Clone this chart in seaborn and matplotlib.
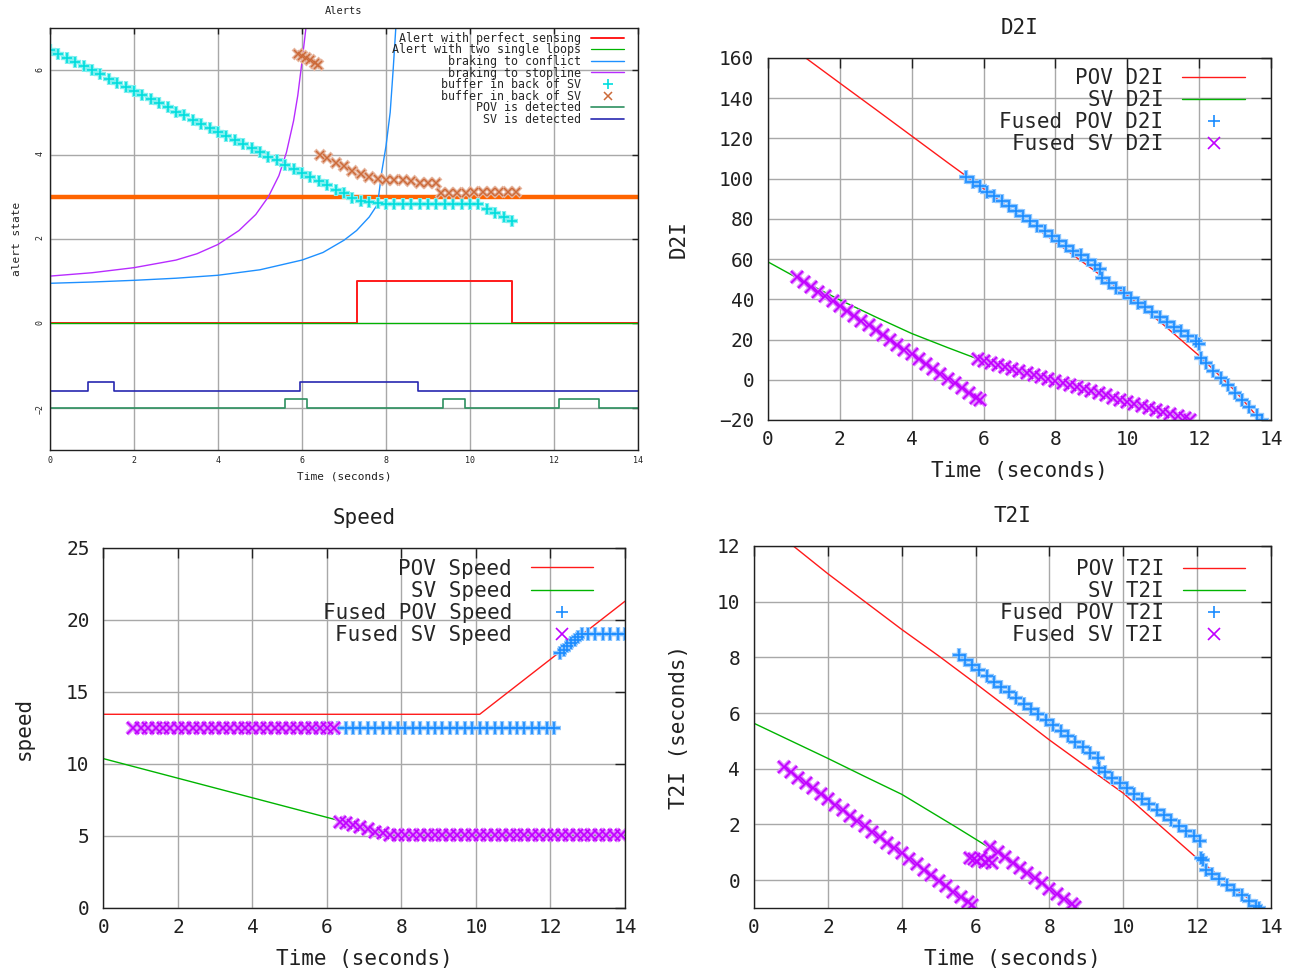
import matplotlib
matplotlib.use("Agg")
import matplotlib.pyplot as plt
import matplotlib.colors as mcolors
import seaborn as sns

RED = "#ff1a1a"
GREEN = "#00b400"
BLUE = "#1a8cff"
PURPLE = "#c000ff"

# ---------------- Alerts (top left) ----------------
perfect_t = [0, 7.30, 11.01, 14]
perfect_v = [0, 1, 0, 0]
loops_t = [0, 14]
loops_v = [0, 0]
conflict_t = [0, 1, 2, 3, 4, 5, 6, 6.5, 7, 7.3, 7.6, 7.8, 7.9, 8.0, 8.1, 8.17, 8.24]
conflict_v = [0.95, 0.98, 1.02, 1.07, 1.14, 1.27, 1.5, 1.68, 1.97, 2.2, 2.52, 2.82, 3.6, 4.2,
              5.0, 6.0, 7.1]
stopline_t = [0, 1, 2, 3, 3.5, 4, 4.5, 4.9, 5.2, 5.45, 5.63, 5.8, 5.9, 6.0, 6.1]
stopline_v = [1.12, 1.2, 1.32, 1.5, 1.65, 1.87, 2.2, 2.58, 3.0, 3.5, 4.05, 4.8, 5.4, 6.2, 7.05]
buf_plus_t = [0.0, 0.2, 0.4, 0.6, 0.8, 1.0, 1.2, 1.4, 1.6, 1.8, 2.0, 2.2, 2.4, 2.6, 2.8, 3.0,
              3.2, 3.4, 3.6, 3.8, 4.0, 4.2, 4.4, 4.6, 4.8, 5.0, 5.2, 5.4, 5.6, 5.8, 6.0, 6.2,
              6.4, 6.6, 6.8, 7.0, 7.2, 7.4, 7.6, 7.8, 8.0, 8.2, 8.4, 8.6, 8.8, 9.0, 9.2, 9.4,
              9.6, 9.8, 10.0, 10.2, 10.4, 10.6, 10.8, 11.0]
buf_plus_v = [6.48, 6.38, 6.29, 6.19, 6.09, 6.00, 5.90, 5.80, 5.70, 5.61, 5.51, 5.41, 5.31,
              5.22, 5.12, 5.02, 4.93, 4.83, 4.73, 4.63, 4.54, 4.44, 4.34, 4.24, 4.15, 4.05,
              3.95, 3.86, 3.76, 3.66, 3.56, 3.47, 3.37, 3.27, 3.17, 3.08, 2.98, 2.91, 2.87,
              2.85, 2.84, 2.84, 2.84, 2.84, 2.84, 2.84, 2.84, 2.84, 2.84, 2.84, 2.84, 2.82,
              2.72, 2.62, 2.53, 2.43]
buf_x_t = [5.9, 6.0, 6.1, 6.2, 6.3, 6.38,
           6.42, 6.6, 6.8, 7.0, 7.2, 7.4, 7.6, 7.8, 8.0, 8.2, 8.4, 8.6, 8.8, 9.0, 9.2,
           9.3, 9.5, 9.7, 9.9, 10.1, 10.3, 10.5, 10.7, 10.9, 11.1]
buf_x_v = [6.38, 6.33, 6.28, 6.23, 6.18, 6.13,
           4.0, 3.91, 3.81, 3.72, 3.62, 3.53, 3.46, 3.42, 3.40, 3.39, 3.39, 3.38, 3.33, 3.33, 3.33,
           3.08, 3.08, 3.09, 3.10, 3.12, 3.12, 3.12, 3.12, 3.12, 3.12]
pov_detect_t = [0, 5.60, 6.12, 9.36, 9.89, 12.13, 13.07, 14]
pov_detect_v = [-2, -1.8, -2, -1.8, -2, -1.8, -2, -2]
sv_detect_t = [0, 0.90, 1.52, 5.96, 8.77, 14]
sv_detect_v = [-1.6, -1.4, -1.6, -1.4, -1.6, -1.6]
alert_threshold = 3.0

# ---------------- D2I (top right) ----------------
pov_d2i_t = [1.05, 2, 3, 4, 5, 6, 7, 8, 9, 10, 11, 12, 13, 13.7]
pov_d2i_v = [160, 147.5, 134.4, 121.2, 108, 95, 81.5, 68.5, 55.4, 42, 27.5, 12, -5.5, -20]
sv_d2i_t = [0, 1, 2, 3, 4, 5, 5.8, 7, 8, 9, 10, 11, 11.7]
sv_d2i_v = [58.6, 48.8, 39.7, 31.2, 23, 16, 10.6, 4.2, -0.6, -5.8, -10.9, -16.1, -19.7]
fpov_d2i_t = [5.5, 5.7, 5.9, 6.1, 6.3, 6.5, 6.7, 6.9, 7.1, 7.3, 7.5, 7.7, 7.9, 8.1, 8.3, 8.5,
              8.7, 8.9, 9.1, 9.25,
              9.3, 9.5, 9.7, 9.9, 10.1, 10.3, 10.5, 10.7, 10.9, 11.1, 11.3, 11.5, 11.7, 11.9, 12.0,
              12.05, 12.2, 12.4, 12.6, 12.8, 13.0, 13.2, 13.4, 13.6, 13.75]
fpov_d2i_v = [101.0, 98.5, 96.1, 93.6, 91.2, 88.7, 86.3, 83.8, 81.4, 78.9, 76.5, 74.0, 71.6,
              69.1, 66.7, 64.2, 61.8, 59.3, 56.9, 55.0,
              50.4, 48.0, 45.6, 43.2, 40.8, 38.4, 36.0, 33.6, 31.2, 28.8, 26.4, 24.0, 21.6, 19.2, 18.0,
              10.8, 8.1, 4.5, 0.9, -2.8, -6.4, -10.0, -13.7, -17.3, -20.0]
fsv_d2i_t = [0.8, 1.0, 1.2, 1.4, 1.6, 1.8, 2.0, 2.2, 2.4, 2.6, 2.8, 3.0, 3.2, 3.4, 3.6, 3.8,
             4.0, 4.2, 4.4, 4.6, 4.8, 5.0, 5.2, 5.4, 5.6, 5.8, 5.9,
             5.85, 6.0, 6.2, 6.4, 6.6, 6.8, 7.0, 7.2, 7.4, 7.6, 7.8, 8.0, 8.2, 8.4, 8.6, 8.8,
             9.0, 9.2, 9.4, 9.6, 9.8, 10.0, 10.2, 10.4, 10.6, 10.8, 11.0, 11.2, 11.4, 11.6, 11.75]
fsv_d2i_v = [51.0, 48.6, 46.2, 43.8, 41.4, 39.0, 36.6, 34.2, 31.8, 29.4, 27.0, 24.6, 22.2,
             19.8, 17.4, 15.0, 12.6, 10.2, 7.8, 5.4, 3.0, 0.6, -1.8, -4.2, -6.6, -9.0, -10.2,
             10.3, 9.5, 8.4, 7.3, 6.3, 5.2, 4.2, 3.2, 2.2, 1.2, 0.3, -0.6, -1.6, -2.7, -3.7,
             -4.7, -5.8, -6.8, -7.8, -8.9, -9.9, -10.9, -12.0, -13.0, -14.1, -15.1, -16.1,
             -17.2, -18.2, -19.2, -20.0]

# ---------------- Speed (bottom left) ----------------
pov_speed_t = [0, 10.1, 14]
pov_speed_v = [13.45, 13.45, 21.3]
sv_speed_t = [0, 6.34, 7.7, 14]
sv_speed_v = [10.37, 6.06, 5.05, 5.05]
fpov_speed_t = [5.5, 5.7, 5.9, 6.1, 6.3, 6.5, 6.7, 6.9, 7.1, 7.3, 7.5, 7.7, 7.9, 8.1, 8.3, 8.5,
                8.7, 8.9, 9.1, 9.3, 9.5, 9.7, 9.9, 10.1, 10.3, 10.5, 10.7, 10.9, 11.1, 11.3,
                11.5, 11.7, 11.9, 12.1,
                12.25, 12.35, 12.45, 12.55, 12.65, 12.75, 12.85,
                13.0, 13.2, 13.4, 13.6, 13.8, 14.0]
fpov_speed_v = [12.5, 12.5, 12.5, 12.5, 12.5, 12.5, 12.5, 12.5, 12.5, 12.5, 12.5, 12.5, 12.5,
                12.5, 12.5, 12.5, 12.5, 12.5, 12.5, 12.5, 12.5, 12.5, 12.5, 12.5, 12.5, 12.5,
                12.5, 12.5, 12.5, 12.5, 12.5, 12.5, 12.5, 12.5,
                17.7, 17.9, 18.2, 18.4, 18.6, 18.8, 19.0,
                19.0, 19.0, 19.0, 19.0, 19.0, 19.0]
fsv_speed_t = [0.8, 1.0, 1.2, 1.4, 1.6, 1.8, 2.0, 2.2, 2.4, 2.6, 2.8, 3.0, 3.2, 3.4, 3.6, 3.8,
               4.0, 4.2, 4.4, 4.6, 4.8, 5.0, 5.2, 5.4, 5.6, 5.8, 6.0, 6.2,
               6.35, 6.5, 6.7, 6.9, 7.1, 7.3, 7.5, 7.7,
               7.9, 8.1, 8.3, 8.5, 8.7, 8.9, 9.1, 9.3, 9.5, 9.7, 9.9, 10.1, 10.3, 10.5, 10.7,
               10.9, 11.1, 11.3, 11.5, 11.7, 11.9, 12.1, 12.3, 12.5, 12.7, 12.9, 13.1, 13.3,
               13.5, 13.7, 13.9]
fsv_speed_v = [12.5, 12.5, 12.5, 12.5, 12.5, 12.5, 12.5, 12.5, 12.5, 12.5, 12.5, 12.5, 12.5,
               12.5, 12.5, 12.5, 12.5, 12.5, 12.5, 12.5, 12.5, 12.5, 12.5, 12.5, 12.5, 12.5,
               12.5, 12.5,
               6.0, 5.9, 5.75, 5.6, 5.45, 5.3, 5.2, 5.1,
               5.05, 5.05, 5.05, 5.05, 5.05, 5.05, 5.05, 5.05, 5.05, 5.05, 5.05, 5.05, 5.05,
               5.05, 5.05, 5.05, 5.05, 5.05, 5.05, 5.05, 5.05, 5.05, 5.05, 5.05, 5.05, 5.05,
               5.05, 5.05, 5.05, 5.05, 5.05]

# ---------------- T2I (bottom right) ----------------
pov_t2i_t = [1.06, 2, 3, 4, 5, 6, 7, 8, 9, 10, 11, 12, 13, 13.7]
pov_t2i_v = [12, 11.0, 10.0, 9.0, 8.05, 7.06, 6.05, 5.03, 4.07, 3.12, 1.95, 0.78, -0.3, -0.95]
sv_t2i_t = [0, 1, 2, 3, 4, 5, 5.5, 6, 6.4, 7, 7.5, 8, 8.5, 8.7]
sv_t2i_v = [5.63, 5.0, 4.37, 3.72, 3.08, 2.28, 1.88, 1.47, 1.14, 0.58, 0.12, -0.35, -0.82, -1.0]
fpov_t2i_t = [5.55, 5.7, 5.9, 6.1, 6.3, 6.5, 6.7, 6.9, 7.1, 7.3, 7.5, 7.7, 7.9, 8.1, 8.3, 8.5,
              8.7, 8.9, 9.1, 9.3,
              9.35, 9.5, 9.7, 9.9, 10.1, 10.3, 10.5, 10.7, 10.9, 11.1, 11.3, 11.5, 11.7, 11.9, 12.07,
              12.1, 12.15, 12.25, 12.4, 12.6, 12.8, 13.0, 13.2, 13.4, 13.6, 13.66]
fpov_t2i_v = [8.07, 7.92, 7.73, 7.53, 7.33, 7.13, 6.94, 6.74, 6.54, 6.34, 6.15, 5.95, 5.75,
              5.56, 5.36, 5.16, 4.96, 4.77, 4.57, 4.37,
              4.01, 3.87, 3.68, 3.49, 3.30, 3.10, 2.91, 2.72, 2.53, 2.34, 2.15, 1.96, 1.76, 1.57, 1.41,
              0.79, 0.72, 0.37, 0.23, 0.03, -0.16, -0.36, -0.55, -0.75, -0.94, -1.0]
fsv_t2i_t = [0.8, 1.0, 1.2, 1.4, 1.6, 1.8, 2.0, 2.2, 2.4, 2.6, 2.8, 3.0, 3.2, 3.4, 3.6, 3.8,
             4.0, 4.2, 4.4, 4.6, 4.8, 5.0, 5.2, 5.4, 5.6, 5.8, 5.9,
             5.85, 5.95, 6.05, 6.15, 6.25, 6.35, 6.45,
             6.4, 6.6, 6.8, 7.0, 7.2, 7.4, 7.6, 7.8, 8.0, 8.2, 8.4, 8.6, 8.7]
fsv_t2i_v = [4.07, 3.88, 3.68, 3.49, 3.29, 3.10, 2.90, 2.71, 2.51, 2.32, 2.13, 1.93, 1.74,
             1.54, 1.35, 1.15, 0.96, 0.76, 0.57, 0.37, 0.18, -0.02, -0.21, -0.41, -0.60, -0.80, -0.89,
             0.80, 0.75, 0.70, 0.78, 0.65, 0.72, 0.62,
             1.20, 1.00, 0.82, 0.63, 0.44, 0.26, 0.07, -0.12, -0.31, -0.49, -0.68, -0.87, -0.96]

sns.set_theme(style="white")
plt.rcParams["font.family"] = ["DejaVu Sans Mono", "DejaVu Sans"]
INK = "#202020"


def lighten(color, f):
    r, g, b = mcolors.to_rgb(color)
    return (r + (1 - r) * f, g + (1 - g) * f, b + (1 - b) * f)


def line(ax, t, v, color, label, lw=1.0, **kw):
    sns.lineplot(x=t, y=v, ax=ax, color=color, lw=lw, label=label,
                 estimator=None, sort=False, **kw)


def points(ax, t, v, color, label, marker, ms, mew=1.0):
    # pale halo underneath, like the antialiased gnuplot point clouds
    sns.lineplot(x=t, y=v, ax=ax, color=lighten(color, 0.5), marker=marker,
                 linestyle="", markersize=ms + 1, markeredgewidth=mew * 2.6,
                 markeredgecolor=lighten(color, 0.5), estimator=None, sort=False)
    sns.lineplot(x=t, y=v, ax=ax, color=color, label=label, marker=marker,
                 linestyle="", markersize=ms, markeredgewidth=mew,
                 markeredgecolor=color, estimator=None, sort=False)


def style_axes(ax, ylim, yticks, tick_fs, tick_len, xpad, ypad):
    ax.set_xlim(0, 14)
    ax.set_ylim(*ylim)
    ax.set_xticks(range(0, 15, 2))
    ax.set_yticks(yticks)
    ax.grid(True, color="#a8a8a8", lw=1.0)
    ax.tick_params(direction="in", top=True, right=True, length=tick_len, width=1,
                   labelsize=tick_fs, colors=INK)
    ax.tick_params(axis="x", pad=xpad)
    ax.tick_params(axis="y", pad=ypad)
    for s in ax.spines.values():
        s.set_color(INK)
        s.set_linewidth(1.0)


def legend(ax, anchor, fs, hl, pad, spacing):
    ax.legend(loc="upper right", bbox_to_anchor=anchor, frameon=False, markerfirst=False,
              fontsize=fs, handlelength=hl, handletextpad=pad, labelspacing=spacing,
              borderpad=0, borderaxespad=0)


fig = plt.figure(figsize=(13.01, 9.74), dpi=100)
ax_al = fig.add_axes([0.0384, 0.538, 0.452, 0.4333])
ax_d2i = fig.add_axes([0.5903, 0.5688, 0.3866, 0.3717])
ax_sp = fig.add_axes([0.0795, 0.0678, 0.4009, 0.3696])
ax_t2i = fig.add_axes([0.5796, 0.0678, 0.3974, 0.3717])

# Alerts
ax_al.axhline(alert_threshold, color="#ff6400", lw=3.2, zorder=1.5)
line(ax_al, perfect_t, perfect_v, RED, "Alert with perfect sensing", lw=1.4, drawstyle="steps-post")
line(ax_al, loops_t, loops_v, GREEN, "Alert with two single loops", lw=0.9, drawstyle="steps-post")
line(ax_al, conflict_t, conflict_v, "#1e90ff", "braking to conflict")
line(ax_al, stopline_t, stopline_v, "#b82cff", "braking to stopline")
points(ax_al, buf_plus_t, buf_plus_v, "#00dede", "buffer in back of SV", "+", 7, 1.2)
points(ax_al, buf_x_t, buf_x_v, "#cc6a3a", "buffer in back of SV", "x", 5.5, 1.1)
line(ax_al, pov_detect_t, pov_detect_v, "#2e9060", "POV is detected", lw=1.2, drawstyle="steps-post")
line(ax_al, sv_detect_t, sv_detect_v, "#2828b0", "SV is detected", lw=1.2, drawstyle="steps-post")
style_axes(ax_al, (-3, 7), [-2, 0, 2, 4, 6], 6, 4, 4, 4)
ax_al.tick_params(axis="y", labelrotation=90)
ax_al.set_title("Alerts", fontsize=7.5, pad=10, color=INK)
ax_al.set_xlabel("Time (seconds)", fontsize=8, color=INK)
ax_al.set_ylabel("alert state", fontsize=8, color=INK)
ax_al.xaxis.set_label_coords(0.5, -0.051)
ax_al.yaxis.set_label_coords(-0.048, 0.5)
legend(ax_al, (0.976, 0.991), 8.4, 2.8, 0.9, -0.12)

# D2I
line(ax_d2i, pov_d2i_t, pov_d2i_v, RED, "POV D2I")
line(ax_d2i, sv_d2i_t, sv_d2i_v, GREEN, "SV D2I")
points(ax_d2i, fpov_d2i_t, fpov_d2i_v, BLUE, "Fused POV D2I", "+", 9, 1.2)
points(ax_d2i, fsv_d2i_t, fsv_d2i_v, PURPLE, "Fused SV D2I", "x", 8, 1.2)
style_axes(ax_d2i, (-20, 160), range(-20, 161, 20), 14, 7, 7, 10)
ax_d2i.set_title("D2I", fontsize=15, pad=17, color=INK)
ax_d2i.set_xlabel("Time (seconds)", fontsize=15, color=INK)
ax_d2i.set_ylabel("D2I", fontsize=15, color=INK)
ax_d2i.xaxis.set_label_coords(0.5, -0.113)
ax_d2i.yaxis.set_label_coords(-0.157, 0.5)
legend(ax_d2i, (0.948, 0.972), 15, 3.0, 0.9, 0.1)

# Speed
line(ax_sp, pov_speed_t, pov_speed_v, RED, "POV Speed")
line(ax_sp, sv_speed_t, sv_speed_v, GREEN, "SV Speed")
points(ax_sp, fpov_speed_t, fpov_speed_v, BLUE, "Fused POV Speed", "+", 9, 1.2)
points(ax_sp, fsv_speed_t, fsv_speed_v, PURPLE, "Fused SV Speed", "x", 8, 1.2)
style_axes(ax_sp, (0, 25), range(0, 26, 5), 14, 7, 7, 10)
ax_sp.set_title("Speed", fontsize=15, pad=17, color=INK)
ax_sp.set_xlabel("Time (seconds)", fontsize=15, color=INK)
ax_sp.set_ylabel("speed", fontsize=15, color=INK)
ax_sp.xaxis.set_label_coords(0.5, -0.114)
ax_sp.yaxis.set_label_coords(-0.133, 0.5)
legend(ax_sp, (0.939, 0.970), 15, 3.0, 0.9, 0.1)

# T2I
line(ax_t2i, pov_t2i_t, pov_t2i_v, RED, "POV T2I")
line(ax_t2i, sv_t2i_t, sv_t2i_v, GREEN, "SV T2I")
points(ax_t2i, fpov_t2i_t, fpov_t2i_v, BLUE, "Fused POV T2I", "+", 9, 1.2)
points(ax_t2i, fsv_t2i_t, fsv_t2i_v, PURPLE, "Fused SV T2I", "x", 8, 1.2)
style_axes(ax_t2i, (-1, 12), range(0, 13, 2), 14, 7, 7, 10)
ax_t2i.set_title("T2I", fontsize=15, pad=17, color=INK)
ax_t2i.set_xlabel("Time (seconds)", fontsize=15, color=INK)
ax_t2i.set_ylabel("T2I (seconds)", fontsize=15, color=INK)
ax_t2i.xaxis.set_label_coords(0.5, -0.113)
ax_t2i.yaxis.set_label_coords(-0.126, 0.5)
legend(ax_t2i, (0.950, 0.964), 15, 3.0, 0.9, 0.1)

fig.savefig("out.png", dpi=100, facecolor="white")
